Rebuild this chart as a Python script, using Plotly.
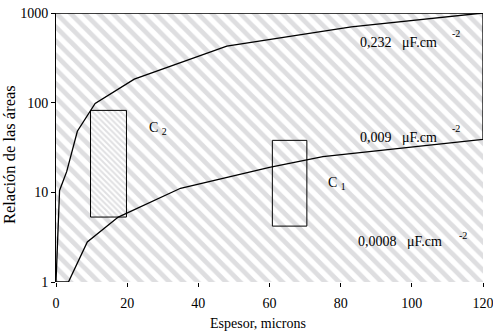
import plotly.graph_objects as go
import math

# Data
upper_x = [0, 1, 3, 6, 11, 22, 48, 83, 120]
upper_y = [1, 10.5, 17, 48, 98, 183, 428, 700, 1000]
lower_x = [0, 3.5, 8.8, 17.5, 35, 60, 75, 119, 120]
lower_y = [1, 1, 2.8, 5.3, 11.1, 19, 25, 39, 39]
c2_x = [9.7, 19.8]
c2_y = [5.3, 82]
c1_x = [60.8, 70.5]
c1_y = [4.2, 38]
x_ticks = [0, 20, 40, 60, 80, 100, 120]
y_ticks = [1, 10, 100, 1000]
NB = "\u00a0"
labels = [
    ("0,232" + NB * 3 + "μF.cm", 84.9, 466, 110.8, 597),
    ("0,009" + NB * 3 + "μF.cm", 84.9, 41.4, 110.8, 52),
    ("0,0008" + NB * 3 + "μF.cm", 84.3, 2.8, 112.7, 3.26),
]
x_title = "Espesor, microns"
y_title = "Relación de las áreas"

FONT = "Times New Roman"
fig = go.Figure()

# hatched background over full plot area
fig.add_trace(go.Scatter(
    x=[0, 120, 120, 0, 0], y=[1, 1, 1000, 1000, 1],
    mode="lines", line=dict(width=0), fill="toself",
    fillcolor="rgba(0,0,0,0)",
    fillpattern=dict(shape="\\", size=10, solidity=0.48,
                     fgcolor="#bdbdc2", bgcolor="white"),
    hoverinfo="skip", showlegend=False))

def rect(xs, ys, pattern):
    kw = {}
    if pattern:
        kw = dict(fill="toself", fillcolor="rgba(0,0,0,0)",
                  fillpattern=dict(shape="\\", size=4, solidity=0.5,
                                   fgcolor="#c2c2c6", bgcolor="white"))
    fig.add_trace(go.Scatter(
        x=[xs[0], xs[1], xs[1], xs[0], xs[0]],
        y=[ys[0], ys[0], ys[1], ys[1], ys[0]],
        mode="lines", line=dict(color="black", width=1),
        hoverinfo="skip", showlegend=False, **kw))

rect(c2_x, c2_y, True)
rect(c1_x, c1_y, False)

# curves
fig.add_trace(go.Scatter(x=upper_x, y=upper_y, mode="lines",
                         line=dict(color="black", width=1.3),
                         cliponaxis=False, showlegend=False))
fig.add_trace(go.Scatter(x=lower_x + [lower_x[-1]], y=lower_y + [upper_y[-1]],
                         mode="lines", line=dict(color="black", width=1.3),
                         cliponaxis=False, showlegend=False))
# top border line at 1000
fig.add_trace(go.Scatter(x=[0, 120], y=[1000, 1000], mode="lines",
                         line=dict(color="black", width=1.3),
                         cliponaxis=False, showlegend=False))

for txt, x, y, sx, sy in labels:
    fig.add_annotation(x=x, y=math.log10(y), text=txt, showarrow=False,
                       xanchor="left", yanchor="middle",
                       font=dict(family=FONT, size=14, color="black"))
    fig.add_annotation(x=sx, y=math.log10(sy), text="-2", showarrow=False,
                       xanchor="left", yanchor="middle",
                       font=dict(family=FONT, size=10, color="black"))

fig.add_annotation(x=25.6, y=math.log10(52), text="C <sub>2</sub>", showarrow=False,
                   xanchor="left", yanchor="middle",
                   font=dict(family=FONT, size=14, color="black"))
fig.add_annotation(x=76.0, y=math.log10(12.7), text="C <sub>1</sub>", showarrow=False,
                   xanchor="left", yanchor="middle",
                   font=dict(family=FONT, size=14, color="black"))

# axis titles
fig.add_annotation(xref="paper", yref="paper", x=0.473, y=-0.153,
                   text=x_title, showarrow=False, xanchor="center", yanchor="middle",
                   font=dict(family=FONT, size=14, color="black"))
fig.add_annotation(xref="paper", yref="paper", x=-0.11, y=0.472,
                   text=y_title, showarrow=False, textangle=-90,
                   xanchor="center", yanchor="middle",
                   font=dict(family=FONT, size=16.5, color="black"))

fig.update_layout(
    width=493, height=333,
    margin=dict(l=56, r=10, t=13, b=51, autoexpand=False),
    paper_bgcolor="white", plot_bgcolor="white",
    font=dict(family=FONT, size=14, color="black"),
    xaxis=dict(range=[0, 120], tickvals=x_ticks, showgrid=False, zeroline=False,
               showline=False, ticks="outside", ticklen=4, tickcolor="black",
               automargin=False, ticklabeloverflow="allow", ticklabelstandoff=4,
               tickfont=dict(family=FONT, size=14)),
    yaxis=dict(type="log", range=[0, 3], tickvals=y_ticks,
               ticktext=[str(v) for v in y_ticks], showgrid=False, zeroline=False,
               showline=True, linecolor="black", linewidth=1,
               ticks="outside", ticklen=4, tickcolor="black",
               automargin=False, ticklabeloverflow="allow",
               tickfont=dict(family=FONT, size=14)),
)

# remove the browser's default 8px page margin so the figure fills the window
fig.write_html("out.html", config={"displayModeBar": False},
               post_script="document.body.style.margin='0';"
                           "document.body.style.overflow='hidden';")
